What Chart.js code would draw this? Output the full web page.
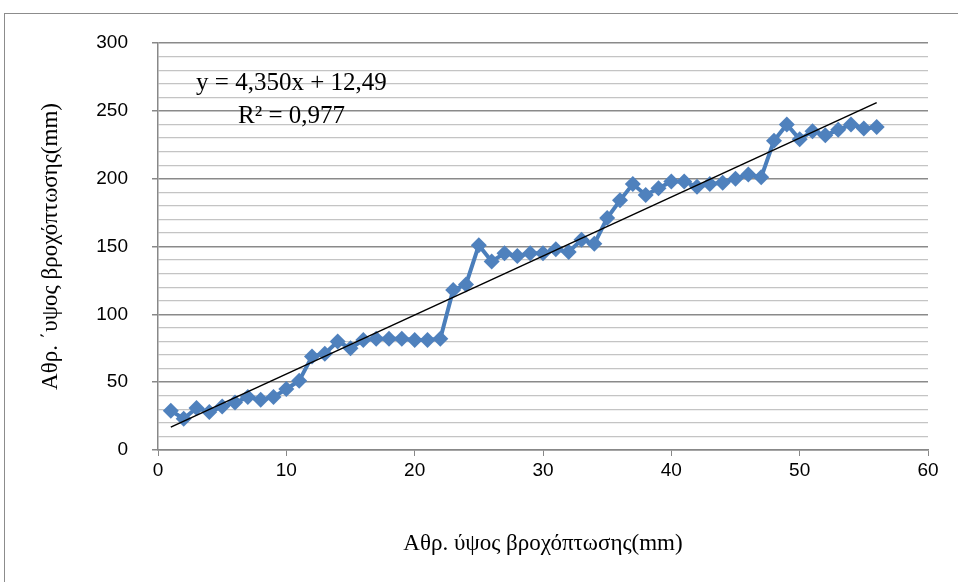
<!DOCTYPE html>
<html>
<head>
<meta charset="utf-8">
<script src="https://cdn.jsdelivr.net/npm/chart.js@4"></script>
<style>
  html, body { margin: 0; padding: 0; background: #fff; }
  #wrap { position: relative; width: 958px; height: 582px; overflow: hidden; }
  #frame { position: absolute; left: 4px; top: 13px; width: 970px; height: 600px; border: 1px solid #8c8c8c; box-sizing: border-box; }
  #rainChart { position: absolute; left: 0; top: 0; }
</style>
</head>
<body>
<div id="wrap">
  <div id="frame"></div>
  <canvas id="rainChart" width="958" height="582"></canvas>
</div>
<script>
const ctx = document.getElementById('rainChart').getContext('2d');

// day index and cumulative rainfall height
const xValues = [1, 2, 3, 4, 5, 6, 7, 8, 9, 10, 11, 12, 13, 14, 15, 16, 17, 18, 19, 20,
  21, 22, 23, 24, 25, 26, 27, 28, 29, 30, 31, 32, 33, 34, 35, 36, 37, 38, 39, 40,
  41, 42, 43, 44, 45, 46, 47, 48, 49, 50, 51, 52, 53, 54, 55, 56];
const rainValues = [29, 23, 31, 28, 32, 35, 39, 37, 39, 45, 51, 69, 71, 80, 75, 81, 82, 82, 82, 81,
  81, 82, 118, 122, 151, 139, 145, 143, 145, 145, 148, 146, 155, 152, 171, 184, 196, 188, 193, 198,
  198, 194, 196, 197, 200, 203, 201, 228, 240, 229, 235, 232, 236, 240, 237, 238];

// fitted line end points (x, y)
const trendX = [1, 56];
const trendY = [16.84, 256.09];

const equationText = 'y = 4,350x + 12,49';
const r2Text = 'R\u00b2 = 0,977';
const axisTitle = 'Αθρ. ύψος βροχόπτωσης(mm)';
const yAxisTitle = 'Αθρ. ΄υψος βροχόπτωσης(mm)';

const samples = xValues.map((x, i) => ({ x: x, y: rainValues[i] }));
const lines = trendX.map((x, i) => ({ x: x, y: trendY[i] }));

const equationLabel = {
    id: 'equationLabel',
    afterDatasetsDraw(chart) {
        const { ctx, scales } = chart;
        ctx.save();
        ctx.fillStyle = '#000';
        ctx.font = '25px "Liberation Serif"';
        ctx.textAlign = 'center';
        ctx.textBaseline = 'middle';
        ctx.fillText(equationText, scales.x.getPixelForValue(10.4), scales.y.getPixelForValue(270));
        ctx.fillText(r2Text, scales.x.getPixelForValue(10.4), scales.y.getPixelForValue(246));
        ctx.restore();
    }
};

const data = {
    datasets: [
        {
            type: 'line',
            label: 'fitted curve',
            data: lines,
            borderColor: '#000000',
            borderWidth: 1.5,
            fill: false,
            radius: 0,
            order: 0
        },
        {
            type: 'line',
            label: 'rainfall',
            data: samples,
            borderColor: '#4A7EBB',
            backgroundColor: '#4F81BD',
            borderWidth: 4,
            pointStyle: 'rectRot',
            pointRadius: 8,
            pointBorderWidth: 0,
            fill: false,
            tension: 0,
            order: 1
        }
    ]
};

const config = {
    data: data,
    plugins: [equationLabel],
    options: {
        responsive: false,
        animation: false,
        layout: { padding: { left: 0, top: 43, right: 30, bottom: 0 } },
        plugins: {
            legend: { display: false },
            tooltip: { enabled: false }
        },
        scales: {
          x: {
            type: 'linear',
            min: 0,
            max: 60,
            title: {
              display: true,
              text: axisTitle,
              color: '#000',
              font: { family: 'Liberation Serif', size: 23 },
              padding: { top: 24, bottom: 24 }
            },
            grid: {
              drawOnChartArea: false,
              drawTicks: true,
              tickLength: 6,
              tickColor: '#888'
            },
            border: { color: '#888', width: 1.5 },
            ticks: {
              stepSize: 10,
              maxRotation: 0,
              minRotation: 0,
              color: '#000',
              padding: 3,
              font: { family: 'Liberation Sans', size: 19 }
            },
            afterFit(scale) { scale.height = 132; }
          },
          y: {
            type: 'linear',
            min: 0,
            max: 300,
            title: {
                display: true,
                text: yAxisTitle,
                color: '#000',
                font: { family: 'Liberation Serif', size: 23 },
                padding: { top: 37, bottom: 37 }
            },
            grid: {
                color: c => c.tick.value % 50 === 0 ? '#8a8a8a' : '#c4c4c4',
                lineWidth: c => c.tick.value % 50 === 0 ? 1.5 : 1.2,
                tickLength: 6,
                tickColor: c => c.tick.value % 50 === 0 ? '#888' : 'rgba(0,0,0,0)'
            },
            border: { color: '#888', width: 1.5 },
            ticks: {
                stepSize: 10,
                autoSkip: false,
                color: '#000',
                padding: 24,
                font: { family: 'Liberation Sans', size: 19 },
                callback: v => v % 50 === 0 ? String(v) : ''
            },
            afterFit(scale) { scale.width = 158; }
          }
        }
      }
};

Chart.defaults.font.family = 'Liberation Sans';
const rainChart = new Chart(ctx, config);
</script>
</body>
</html>
